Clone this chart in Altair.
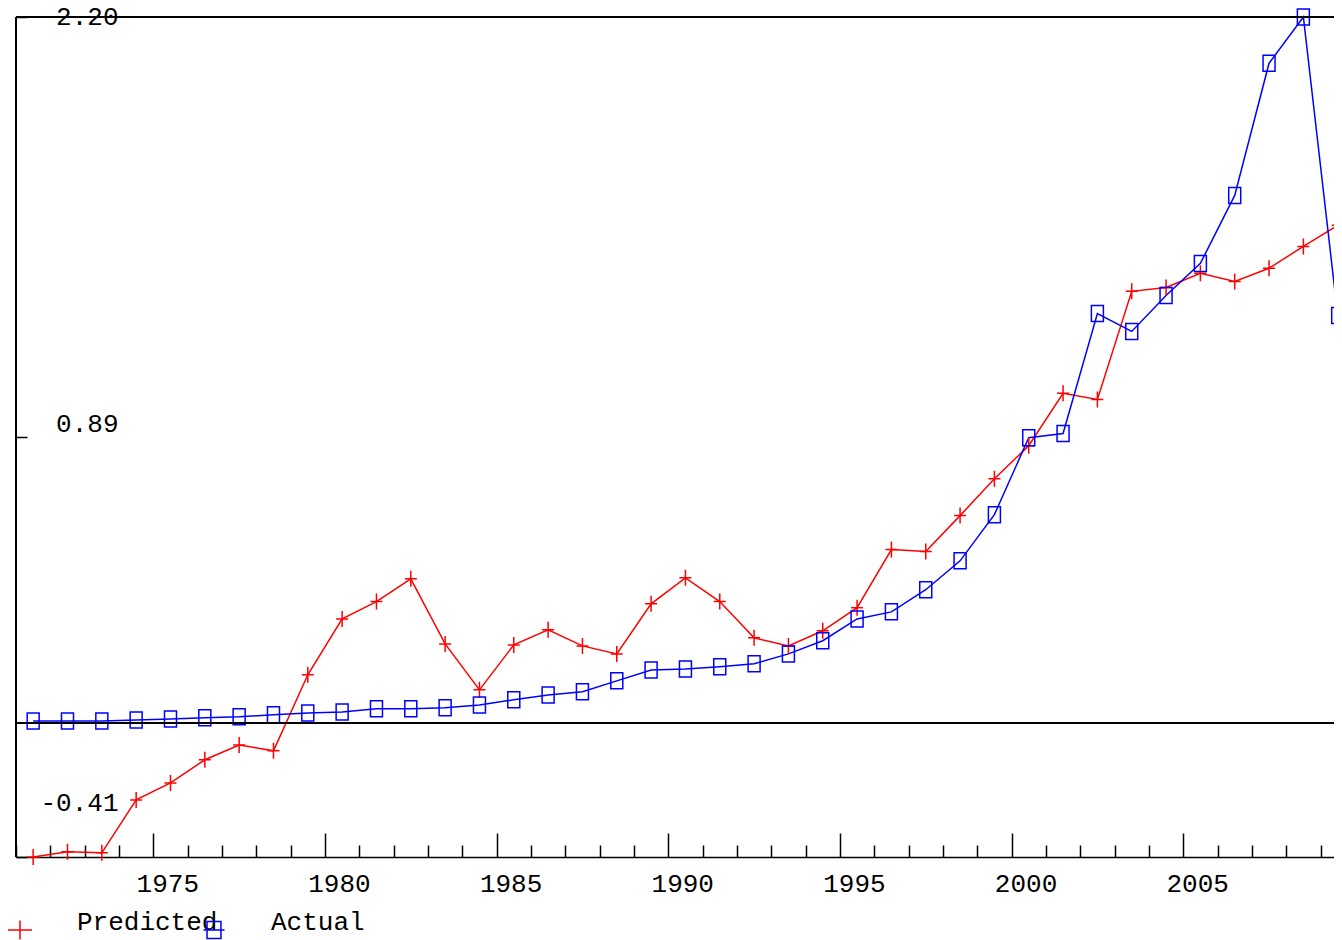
import altair as alt
import pandas as pd

years = list(range(1971, 2010))
predicted = [-0.418, -0.402, -0.405, -0.240, -0.187, -0.115, -0.069, -0.087, 0.150, 0.324,
             0.378, 0.449, 0.246, 0.103, 0.243, 0.290, 0.240, 0.215, 0.371, 0.452,
             0.378, 0.265, 0.240, 0.287, 0.359, 0.540, 0.534, 0.646, 0.761, 0.864,
             1.027, 1.008, 1.345, 1.357, 1.401, 1.376, 1.417, 1.485, 1.551]
actual = [0.006, 0.006, 0.006, 0.009, 0.012, 0.016, 0.019, 0.025, 0.031, 0.034,
          0.044, 0.044, 0.047, 0.056, 0.072, 0.087, 0.097, 0.131, 0.165, 0.168,
          0.175, 0.184, 0.215, 0.256, 0.324, 0.346, 0.415, 0.505, 0.649, 0.889,
          0.902, 1.276, 1.220, 1.332, 1.432, 1.644, 2.056, 2.200, 1.270]
series_names = ["Predicted", "Actual"]
series_colors = ["#ff0000", "#0000ff"]
y_tick_values = [-0.418, 0.891, 2.20]
y_tick_labels = ["-0.41", "0.89", "2.20"]
x_label_years = [1975, 1980, 1985, 1990, 1995, 2000, 2005]

rows = []
for i, yr in enumerate(years):
    rows.append({"year": yr, "series": series_names[0], "value": predicted[i]})
    rows.append({"year": yr, "series": series_names[1], "value": actual[i]})
df = pd.DataFrame(rows)

W, H = 1318, 840
FONT = "Liberation Mono"
PX_PER_YEAR = 34.33
TICK = 11
LEGEND_X0, LEGEND_STEP, LEGEND_Y = -9, 194, 900

xscale = alt.Scale(domain=[years[0], years[0] + W / PX_PER_YEAR], nice=False, zero=False)
yscale = alt.Scale(domain=[y_tick_values[0], y_tick_values[-1]], nice=False, zero=False)

ylabel_expr = (f"datum.value < 0 ? '{y_tick_labels[0]}' : "
               f"(datum.value < 1.5 ? '{y_tick_labels[1]}' : '{y_tick_labels[2]}')")

# left axis pushed inside the plot so that its ticks point inward
y_axis = alt.Axis(
    orient="left", offset=-TICK, values=y_tick_values, labelExpr=ylabel_expr,
    domain=False, ticks=True, tickSize=TICK, tickColor="black", tickWidth=1.5,
    labelAlign="right", labelPadding=-102,
    labelBaseline={"condition": {"test": "datum.value > 2", "value": "top"}, "value": "middle"},
    labelOffset={"condition": {"test": "datum.value < 0", "value": -55}, "value": -14},
    labelFont=FONT, labelFontSize=26, labelColor="black", grid=False, title=None,
)
y_enc = alt.Y("value:Q", scale=yscale, axis=y_axis)

base = alt.Chart(df).transform_calculate(xpos="datum.year + 0.5")

x_bottom = alt.X("xpos:Q", scale=xscale, axis=alt.Axis(
    orient="bottom", values=x_label_years, format="d", domain=True, domainColor="black",
    domainWidth=1.5, ticks=False, labelFont=FONT, labelFontSize=26, labelColor="black",
    labelPadding=26, labelOffset=14, labelFlush=False, labelBaseline="middle",
    grid=False, title=None))

x_top = alt.X("xpos:Q", scale=xscale, axis=alt.Axis(
    orient="top", offset=-H, values=years, labels=False, domain=False,
    ticks=True, tickColor="black", tickWidth=1.5,
    tickSize={"condition": {"test": "datum.value % 5 == 0", "value": 24}, "value": 12},
    grid=False, title=None))

color_scale = alt.Scale(domain=series_names, range=series_colors)
marker_paths = ["M-0.75,0H0.75M0,-1V1", "M-0.75,-1H0.75V1H-0.75Z"]
# legend symbols: short line segment with the marker on it
legend_paths = ["M-1,0H1M0,-0.79V0.79", "M-0.875,0H0.875M-0.58,-0.71H0.58V0.71H-0.58Z"]
shape_scale = alt.Scale(domain=series_names, range=marker_paths)

zero_rule = alt.Chart(df).mark_rule(color="black", strokeWidth=1.5).encode(
    y=alt.YDatum(0, scale=yscale))
top_rule = alt.Chart(df).mark_rule(color="black", strokeWidth=1.5).encode(
    y=alt.YDatum(y_tick_values[-1], scale=yscale))
left_rule = alt.Chart(df).mark_rule(color="black", strokeWidth=1.5).encode(
    x=alt.XDatum(years[0], scale=xscale, axis=None))

lines = base.mark_line(strokeWidth=1.5).encode(
    x=x_bottom, y=y_enc,
    color=alt.Color("series:N", scale=color_scale, legend=None),
    detail="series:N",
)

points = base.mark_point(filled=False, strokeWidth=1.5, size=256, opacity=1).encode(
    x=x_top, y=y_enc,
    color=alt.Color("series:N", scale=color_scale, legend=None),
    shape=alt.Shape("series:N", scale=shape_scale, legend=None),
)

# one single-entry legend per series, placed side by side at a fixed step
legend_layers = []
for i, name in enumerate(series_names):
    leg = alt.Legend(title=None, orient="none", legendX=LEGEND_X0 + i * LEGEND_STEP,
                     legendY=LEGEND_Y)
    legend_layers.append(
        base.transform_filter("false").mark_point(filled=False, strokeWidth=1.5, opacity=1)
        .encode(
            x=alt.X("xpos:Q", scale=xscale, axis=None),
            y=y_enc,
            color=alt.Color("series:N", scale=alt.Scale(domain=[name], range=[series_colors[i]]),
                            legend=leg),
            shape=alt.Shape("series:N", scale=alt.Scale(domain=[name], range=[legend_paths[i]]),
                            legend=leg),
        )
    )

chart = alt.layer(lines, points, *legend_layers, zero_rule, top_rule, left_rule).resolve_axis(
    x="independent").resolve_scale(color="independent", shape="independent").properties(
    width=W, height=H,
    autosize=alt.AutoSizeParams(type="none"),
    padding={"left": 8, "top": 9, "right": 0, "bottom": 85},
).configure_view(stroke=None).configure_legend(
    labelFont=FONT, labelFontSize=26, labelColor="black", labelBaseline="alphabetic",
    labelOffset=44, symbolSize=576, symbolStrokeWidth=1.5,
    symbolOpacity=1, padding=0, labelLimit=400,
)

chart.save("out.html", embed_options={"renderer": "svg", "actions": False})
